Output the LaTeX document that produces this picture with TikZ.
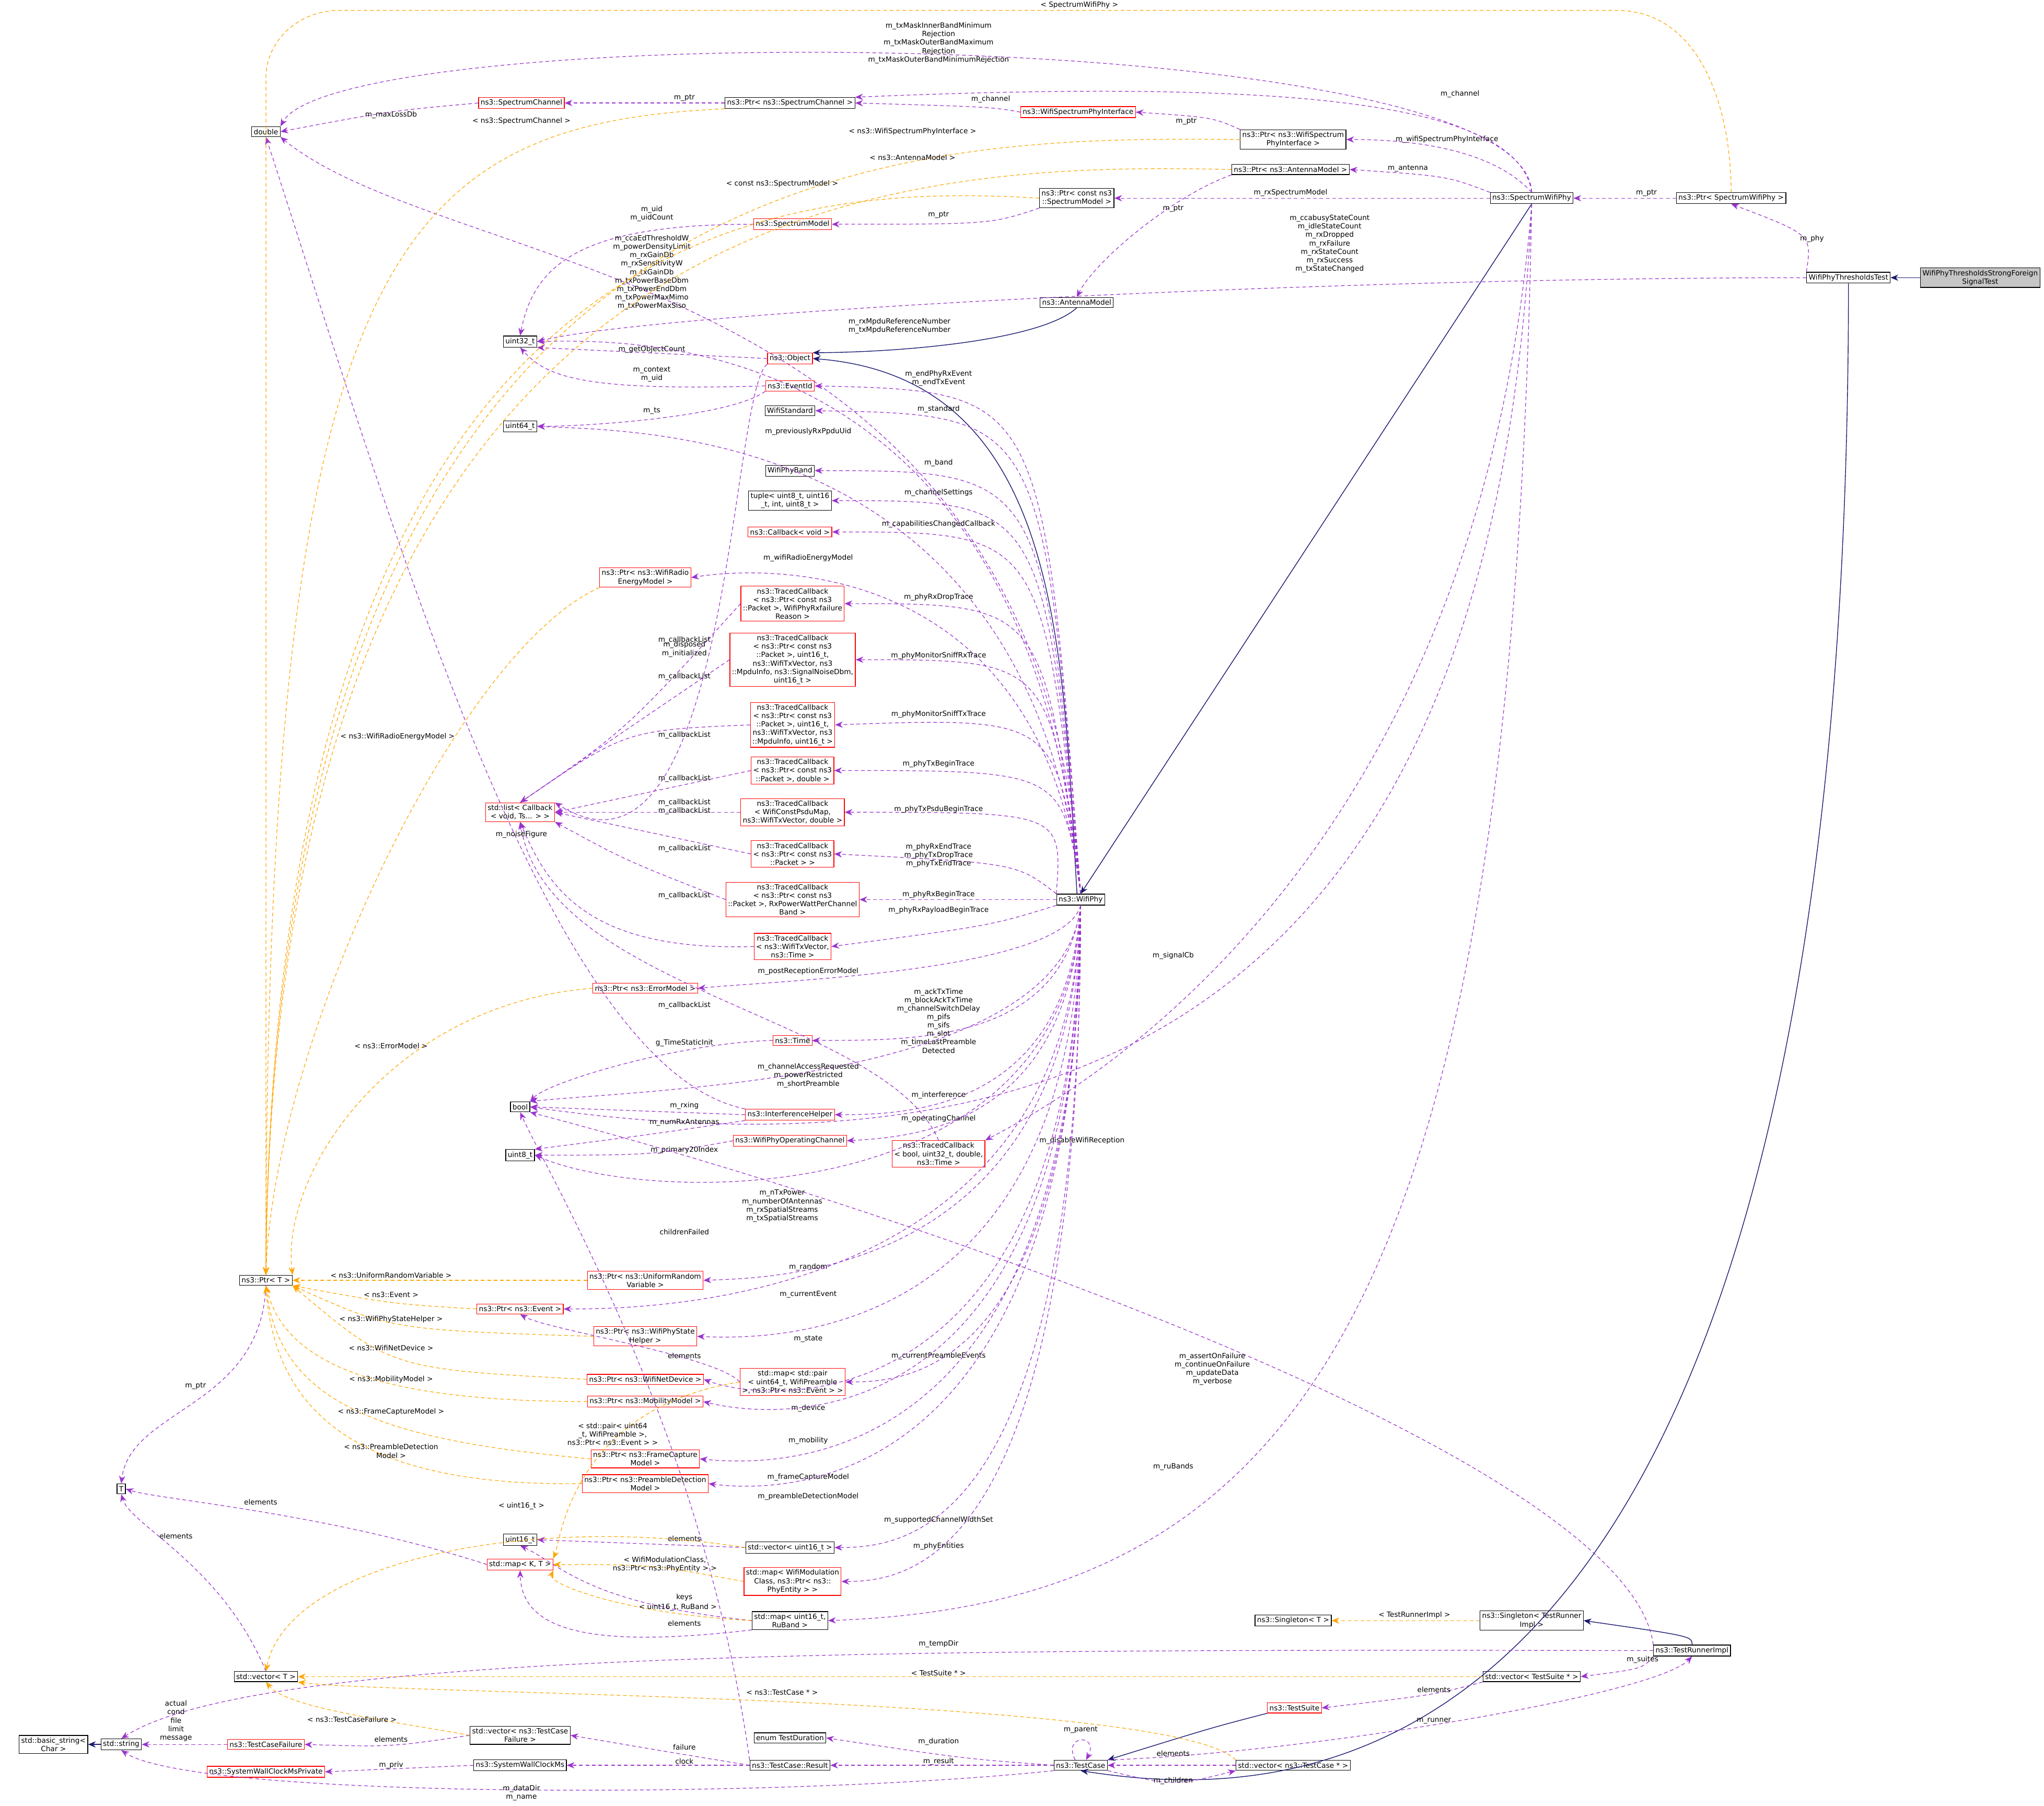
\documentclass[tikz,border=0pt]{standalone}
\usepackage{fontspec}
\setmainfont{DejaVu Sans}
\usetikzlibrary{arrows.meta}
\definecolor{pc}{HTML}{9A32CD}
\definecolor{oc}{HTML}{FFA500}
\definecolor{bc}{HTML}{191970}
\newcommand\nf{\fontsize{3.9}{4.6}\selectfont}
\tikzset{
box/.style={draw=black,line width=0.35pt,font=\nf,align=center,inner sep=1.1pt,fill=white,minimum height=5.5pt},
rbox/.style={box,draw=red},
pe/.style={draw=pc,line width=0.35pt,dash pattern=on 2pt off 1.5pt,-{Stealth[length=4.2pt,width=3.4pt]}},
oe/.style={draw=oc,line width=0.35pt,dash pattern=on 2pt off 1.5pt,-{Stealth[length=4.2pt,width=3.4pt]}},
ie/.style={draw=bc,line width=0.4pt,-{Stealth[length=4.2pt,width=3.4pt]}},
lbl/.style={font=\nf,align=center,inner sep=0}}
\newcommand\lab[3]{\node[lbl] at (#1,#2) {#3};}
\begin{document}
\begin{tikzpicture}[x=0.025cm,y=-0.025cm]
\useasboundingbox (0,0) rectangle (1568,1385);
% nodes
\node[box,fill=gray!45] (sf) at (1519,213) {WifiPhyThresholdsStrongForeign\\SignalTest};
\node[box] (tt) at (1418,213) {WifiPhyThresholdsTest};
\node[box] (psw) at (1328,152) {ns3::Ptr< SpectrumWifiPhy >};
\node[box] (sw) at (1175,152) {ns3::SpectrumWifiPhy};
\node[box] (pwi) at (992,107) {ns3::Ptr< ns3::WifiSpectrum\\PhyInterface >};
\node[rbox] (wsi) at (827,86) {ns3::WifiSpectrumPhyInterface};
\node[box] (psc) at (606,79) {ns3::Ptr< ns3::SpectrumChannel >};
\node[rbox] (sc) at (400,79) {ns3::SpectrumChannel};
\node[box] (dbl) at (204,101) {double};
\node[box] (pam) at (990,130) {ns3::Ptr< ns3::AntennaModel >};
\node[box] (psm) at (826,152) {ns3::Ptr< const ns3\\::SpectrumModel >};
\node[rbox] (sm) at (608,172) {ns3::SpectrumModel};
\node[box] (am) at (826,232) {ns3::AntennaModel};
\node[box] (u32) at (399,262) {uint32\_t};
\node[rbox] (obj) at (606,275) {ns3::Object};
\node[rbox] (eid) at (606,296) {ns3::EventId};
\node[box] (u64) at (399,327) {uint64\_t};
\node[box] (wstd) at (606,315) {WifiStandard};
\node[box] (wband) at (606,361) {WifiPhyBand};
\node[box] (tup) at (606,384) {tuple< uint8\_t, uint16\\\_t, int, uint8\_t >};
\node[rbox] (cbv) at (606,408) {ns3::Callback< void >};
\node[rbox] (pre) at (495,443) {ns3::Ptr< ns3::WifiRadio\\EnergyModel >};
\node[rbox] (tc1) at (608,463) {ns3::TracedCallback\\< ns3::Ptr< const ns3\\::Packet >, WifiPhyRxfailure\\Reason >};
\node[rbox] (tc2) at (608,506) {ns3::TracedCallback\\< ns3::Ptr< const ns3\\::Packet >, uint16\_t,\\ ns3::WifiTxVector, ns3\\::MpduInfo, ns3::SignalNoiseDbm,\\ uint16\_t >};
\node[rbox] (tc3) at (608,556) {ns3::TracedCallback\\< ns3::Ptr< const ns3\\::Packet >, uint16\_t,\\ ns3::WifiTxVector, ns3\\::MpduInfo, uint16\_t >};
\node[rbox] (tc4) at (608,591) {ns3::TracedCallback\\< ns3::Ptr< const ns3\\::Packet >, double >};
\node[rbox] (tc5) at (608,623) {ns3::TracedCallback\\< WifiConstPsduMap,\\ ns3::WifiTxVector, double >};
\node[rbox] (tc6) at (608,655) {ns3::TracedCallback\\< ns3::Ptr< const ns3\\::Packet > >};
\node[rbox] (tc7) at (608,690) {ns3::TracedCallback\\< ns3::Ptr< const ns3\\::Packet >, RxPowerWattPerChannel\\Band >};
\node[rbox] (tc8) at (608,726) {ns3::TracedCallback\\< ns3::WifiTxVector,\\ ns3::Time >};
\node[rbox] (lst) at (399,623) {std::list< Callback\\< void, Ts... > >};
\node[box] (wp) at (829,690) {ns3::WifiPhy};
\node[rbox] (pem) at (495,758) {ns3::Ptr< ns3::ErrorModel >};
\node[rbox] (tim) at (608,798) {ns3::Time};
\node[box] (bool) at (399,849) {bool};
\node[rbox] (ih) at (606,855) {ns3::InterferenceHelper};
\node[box] (u8) at (399,886) {uint8\_t};
\node[rbox] (woc) at (606,875) {ns3::WifiPhyOperatingChannel};
\node[rbox] (tcb) at (720,885) {ns3::TracedCallback\\< bool, uint32\_t, double,\\ ns3::Time >};
\node[box] (pt) at (204,982) {ns3::Ptr< T >};
\node[rbox] (purv) at (495,982) {ns3::Ptr< ns3::UniformRandom\\Variable >};
\node[rbox] (pev) at (399,1004) {ns3::Ptr< ns3::Event >};
\node[rbox] (psh) at (495,1025) {ns3::Ptr< ns3::WifiPhyState\\Helper >};
\node[rbox] (mpe) at (608,1060) {std::map< std::pair\\< uint64\_t, WifiPreamble\\ >, ns3::Ptr< ns3::Event > >};
\node[rbox] (pnd) at (495,1058) {ns3::Ptr< ns3::WifiNetDevice >};
\node[rbox] (pmm) at (495,1075) {ns3::Ptr< ns3::MobilityModel >};
\node[rbox] (pfc) at (495,1119) {ns3::Ptr< ns3::FrameCapture\\Model >};
\node[rbox] (ppd) at (495,1138) {ns3::Ptr< ns3::PreambleDetection\\Model >};
\node[box] (T) at (93,1142) {T};
\node[box] (u16) at (399,1181) {uint16\_t};
\node[box] (vu16) at (606,1187) {std::vector< uint16\_t >};
\node[rbox] (mkt) at (399,1200) {std::map< K, T >};
\node[rbox] (mwm) at (608,1213) {std::map< WifiModulation\\Class, ns3::Ptr< ns3::\\PhyEntity > >};
\node[box] (mrb) at (606,1243) {std::map< uint16\_t,\\ RuBand >};
\node[box] (vt) at (204,1286) {std::vector< T >};
\node[box] (sgt) at (992,1243) {ns3::Singleton< T >};
\node[box] (sgr) at (1175,1243) {ns3::Singleton< TestRunner\\Impl >};
\node[box] (tri) at (1298,1266) {ns3::TestRunnerImpl};
\node[box] (vts) at (1175,1286) {std::vector< TestSuite * >};
\node[rbox] (ts) at (993,1310) {ns3::TestSuite};
\node[box] (bs) at (41,1338) {std::basic\_string<\\Char >};
\node[box] (str) at (93,1338) {std::string};
\node[rbox] (tcf) at (204,1338) {ns3::TestCaseFailure};
\node[box] (vtcf) at (399,1331) {std::vector< ns3::TestCase\\Failure >};
\node[box] (td) at (606,1333) {enum TestDuration};
\node[box] (res) at (606,1354) {ns3::TestCase::Result};
\node[box] (tc) at (829,1354) {ns3::TestCase};
\node[box] (vtc) at (992,1354) {std::vector< ns3::TestCase * >};
\node[box] (swc) at (399,1354) {ns3::SystemWallClockMs};
\node[rbox] (swcp) at (204,1359) {ns3::SystemWallClockMsPrivate};
% inheritance
\draw[ie] (sf) -- (tt);
\draw[ie] (tt.south) .. controls (1418,1385) and (1000,1385) .. (tc.south);
\draw[ie] (sw.south) -- (wp.north);
\draw[ie] ([xshift=-2]wp.north) .. controls (815,500) and (815,290) .. (obj.east);
\draw[ie] (am.south) .. controls (800,260) and (700,270) .. (obj.north east);
\draw[ie] (str) -- (bs);
\draw[ie] (tri.north) .. controls (1298,1255) .. (sgr.east);
\draw[ie] (ts.south west) .. controls (930,1325) .. (tc.north east);
% top region
\draw[pe] (tt.north west) .. controls (1390,180) .. (psw.south); \lab{1390}{183}{m\_phy}
\draw[pe] (tt.west) .. controls (1000,213) and (500,240) .. (u32.east);
\lab{1020}{187}{m\_ccabusyStateCount\\m\_idleStateCount\\m\_rxDropped\\m\_rxFailure\\m\_rxStateCount\\m\_rxSuccess\\m\_txStateChanged}
\draw[pe] (psw.west) -- (sw.east); \lab{1263}{148}{m\_ptr}
\draw[pe] (sw.north) .. controls (1150,120) and (1100,107) .. (pwi.east); \lab{1110}{107}{m\_wifiSpectrumPhyInterface}
\draw[pe] (sw.north) .. controls (1165,80) and (1000,60) .. (psc.north east); \lab{1120}{72}{m\_channel}
\draw[pe] (sw.north west) .. controls (1110,135) .. (pam.east); \lab{1080}{129}{m\_antenna}
\draw[pe] (sw.west) -- (psm.east); \lab{990}{148}{m\_rxSpectrumModel}
\draw[pe] (sw.north) .. controls (1170,15) and (260,15) .. (dbl.north east);
\lab{720}{33}{m\_txMaskInnerBandMinimum\\Rejection\\m\_txMaskOuterBandMaximum\\Rejection\\m\_txMaskOuterBandMinimumRejection}
\draw[pe] (sw.south) .. controls (1140,600) and (900,800) .. (tcb.north east); \lab{900}{733}{m\_signalCb}
\draw[pe] (sw.south) .. controls (1150,700) and (900,920) .. (bool.east); \lab{830}{875}{m\_disableWifiReception}
\draw[pe] (sw.south) .. controls (1160,1000) and (1000,1230) .. (mrb.east); \lab{900}{1125}{m\_ruBands}
\draw[pe] (pwi.north west) .. controls (930,90) .. (wsi.east); \lab{910}{93}{m\_ptr}
\draw[pe] (wsi.west) .. controls (760,82) .. (psc.east); \lab{760}{76}{m\_channel}
\draw[pe] (psc.west) -- (sc.east); \lab{525}{75}{m\_ptr}
\draw[pe] (sc.west) .. controls (300,85) .. (dbl.east); \lab{300}{88}{m\_maxLossDb}
\draw[pe] (pam.south west) .. controls (900,150) and (840,200) .. (am.north); \lab{900}{160}{m\_ptr}
\draw[pe] (psm.south west) .. controls (760,172) .. (sm.east); \lab{720}{165}{m\_ptr}
\draw[pe] (sm.west) .. controls (450,172) and (410,200) .. (u32.north); \lab{500}{164}{m\_uid\\m\_uidCount}
\draw[pe] (obj.west) -- (u32.south east); \lab{500}{268}{m\_getObjectCount}
\draw[pe] (obj.south west) .. controls (560,300) and (560,700) .. (lst.north east); \lab{525}{498}{m\_disposed\\m\_initialized}
\draw[pe] (eid.west) .. controls (450,300) and (420,290) .. (u32.south); \lab{500}{287}{m\_context\\m\_uid}
\draw[pe] (eid.south west) .. controls (560,320) and (450,327) .. (u64.east); \lab{500}{315}{m\_ts}
% WifiPhy members above
\draw[pe] (wp.north) .. controls (800,200) and (350,215) .. (dbl.south east);
\lab{500}{209}{m\_ccaEdThresholdW\\m\_powerDensityLimit\\m\_rxGainDb\\m\_rxSensitivityW\\m\_txGainDb\\m\_txPowerBaseDbm\\m\_txPowerEndDbm\\m\_txPowerMaxMimo\\m\_txPowerMaxSiso}
\draw[pe] (wp.north) .. controls (790,260) and (500,260) .. (u32.east); \lab{690}{250}{m\_rxMpduReferenceNumber\\m\_txMpduReferenceNumber}
\draw[pe] (wp.north) .. controls (800,300) .. (eid.east); \lab{720}{290}{m\_endPhyRxEvent\\m\_endTxEvent}
\draw[pe] (wp.north) .. controls (800,318) .. (wstd.east); \lab{720}{314}{m\_standard}
\draw[pe] (wp.north) .. controls (790,331) and (500,331) .. (u64.east); \lab{620}{331}{m\_previouslyRxPpduUid}
\draw[pe] (wp.north) .. controls (800,361) .. (wband.east); \lab{720}{355}{m\_band}
\draw[pe] (wp.north) .. controls (800,384) .. (tup.east); \lab{720}{378}{m\_channelSettings}
\draw[pe] (wp.north) .. controls (800,408) .. (cbv.east); \lab{720}{402}{m\_capabilitiesChangedCallback}
\draw[pe] (wp.north) .. controls (800,435) and (600,432) .. (pre.east); \lab{620}{428}{m\_wifiRadioEnergyModel}
\draw[pe] (wp.north) .. controls (800,463) .. (tc1.east); \lab{720}{458}{m\_phyRxDropTrace}
\draw[pe] (wp.north) .. controls (805,506) .. (tc2.east); \lab{720}{503}{m\_phyMonitorSniffRxTrace}
\draw[pe] (wp.north) .. controls (810,550) .. (tc3.east); \lab{720}{548}{m\_phyMonitorSniffTxTrace}
\draw[pe] (wp.north) .. controls (815,591) .. (tc4.east); \lab{720}{586}{m\_phyTxBeginTrace}
\draw[pe] (wp.north west) .. controls (815,623) .. (tc5.east); \lab{720}{621}{m\_phyTxPsduBeginTrace}
\draw[pe] (wp.north west) .. controls (780,662) .. (tc6.east); \lab{720}{656}{m\_phyRxEndTrace\\m\_phyTxDropTrace\\m\_phyTxEndTrace}
\draw[pe] (wp.west) -- (tc7.east); \lab{720}{686}{m\_phyRxBeginTrace}
\draw[pe] (wp.south west) .. controls (760,710) .. (tc8.east); \lab{720}{698}{m\_phyRxPayloadBeginTrace}
% WifiPhy members below
\draw[pe] (wp.south) .. controls (815,745) and (600,752) .. (pem.east); \lab{620}{745}{m\_postReceptionErrorModel}
\draw[pe] (wp.south) .. controls (815,800) and (700,798) .. (tim.east); \lab{720}{783}{m\_ackTxTime\\m\_blockAckTxTime\\m\_channelSwitchDelay\\m\_pifs\\m\_sifs\\m\_slot\\m\_timeLastPreamble\\Detected}
\draw[pe] (wp.south) .. controls (815,830) and (500,835) .. (bool.north east); \lab{620}{825}{m\_channelAccessRequested\\m\_powerRestricted\\m\_shortPreamble}
\draw[pe] (wp.south) .. controls (818,850) and (700,855) .. (ih.east); \lab{720}{840}{m\_interference}
\draw[pe] (wp.south) .. controls (820,865) and (700,872) .. (woc.east); \lab{720}{858}{m\_operatingChannel}
\draw[pe] (wp.south) .. controls (820,930) and (500,925) .. (u8.east); \lab{600}{925}{m\_nTxPower\\m\_numberOfAntennas\\m\_rxSpatialStreams\\m\_txSpatialStreams}
\draw[pe] (wp.south) .. controls (822,975) and (600,980) .. (purv.east); \lab{620}{972}{m\_random}
\draw[pe] (wp.south) .. controls (822,1000) and (500,1004) .. (pev.east); \lab{620}{993}{m\_currentEvent}
\draw[pe] (wp.south) .. controls (824,1025) and (600,1028) .. (psh.east); \lab{620}{1027}{m\_state}
\draw[pe] (wp.south) .. controls (826,1050) and (700,1060) .. (mpe.east); \lab{720}{1040}{m\_currentPreambleEvents}
\draw[pe] (wp.south) .. controls (826,1085) and (600,1080) .. (pnd.east); \lab{620}{1080}{m\_device}
\draw[pe] (wp.south) .. controls (826,1105) and (600,1090) .. (pmm.east); \lab{620}{1105}{m\_mobility}
\draw[pe] (wp.south) .. controls (828,1130) and (600,1125) .. (pfc.east); \lab{620}{1133}{m\_frameCaptureModel}
\draw[pe] (wp.south) .. controls (828,1150) and (600,1145) .. (ppd.east); \lab{620}{1148}{m\_preambleDetectionModel}
\draw[pe] (wp.south) .. controls (829,1170) and (700,1187) .. (vu16.east); \lab{720}{1166}{m\_supportedChannelWidthSet}
\draw[pe] (wp.south) .. controls (829,1195) and (700,1213) .. (mwm.east); \lab{720}{1186}{m\_phyEntities}
% callback lists
\foreach \t in {tc1,tc2,tc3}{\draw[pe] (\t.west) .. controls (480,560) .. (lst.north);}
\lab{525}{491}{m\_callbackList}\lab{525}{519}{m\_callbackList}\lab{525}{564}{m\_callbackList}
\draw[pe] (tc4.west) -- (lst.east); \lab{525}{597}{m\_callbackList}
\draw[pe] (tc5.west) -- (lst.east); \lab{525}{619}{m\_callbackList\\m\_callbackList}
\draw[pe] (tc6.west) -- (lst.east);
\draw[pe] (tc7.west) .. controls (480,660) .. (lst.south east); \lab{525}{651}{m\_callbackList}
\draw[pe] (tc8.west) .. controls (450,730) and (420,680) .. (lst.south); \lab{525}{687}{m\_callbackList}
\draw[pe] (tcb.north) .. controls (680,780) and (420,760) .. (lst.south); \lab{525}{771}{m\_callbackList}
% misc
\draw[pe] (tim.west) .. controls (520,800) and (420,830) .. (bool.north east); \lab{525}{800}{g\_TimeStaticInit}
\draw[pe] (ih.west) -- (bool.east); \lab{525}{848}{m\_rxing}
\draw[pe] (ih.south west) .. controls (500,870) .. (u8.north east); \lab{525}{861}{m\_numRxAntennas}
\draw[pe] (ih.north west) .. controls (420,820) and (300,400) .. (dbl.south); \lab{400}{640}{m\_noiseFigure}
\draw[pe] (woc.west) .. controls (500,886) .. (u8.east); \lab{525}{882}{m\_primary20Index}
\draw[pe] (pt.south) .. controls (200,1080) and (100,1080) .. (T.north); \lab{150}{1063}{m\_ptr}
\draw[pe] (mkt.west) .. controls (250,1160) and (120,1150) .. (T.east); \lab{200}{1152}{elements}
\draw[pe] (vt.north) .. controls (170,1200) and (100,1170) .. (T.south); \lab{135}{1178}{elements}
\draw[pe] (mpe.west) .. controls (550,1040) and (420,1020) .. (pev.south); \lab{525}{1040}{elements}
\draw[pe] (vu16.west) -- (u16.east); \lab{525}{1180}{elements}
\draw[pe] (mrb.west) .. controls (450,1230) and (430,1200) .. (u16.south); \lab{525}{1225}{keys}
\draw[pe] (mrb.south west) .. controls (450,1265) and (400,1250) .. (mkt.south); \lab{525}{1245}{elements}
\draw[pe] (res.north west) .. controls (540,1100) and (420,900) .. (bool.south); \lab{525}{945}{childrenFailed}
\draw[pe] (tri.north west) .. controls (1250,1120) and (700,930) .. (bool.south east); \lab{930}{1050}{m\_assertOnFailure\\m\_continueOnFailure\\m\_updateData\\m\_verbose}
\draw[pe] (tri.west) .. controls (700,1265) and (200,1265) .. (str.north); \lab{720}{1261}{m\_tempDir}
\draw[pe] (tri.south west) .. controls (1260,1280) .. (vts.east); \lab{1260}{1273}{m\_suites}
\draw[pe] (vts.south west) .. controls (1100,1300) .. (ts.east); \lab{1100}{1296}{elements}
\draw[pe] (tc.north east) .. controls (1000,1345) and (1270,1300) .. (tri.south); \lab{1100}{1320}{m\_runner}
\draw[pe] ([xshift=-3]tc.north) .. controls +(-10,-20) and +(10,-20) .. ([xshift=3]tc.north); \lab{829}{1327}{m\_parent}
\draw[pe] (tc.south east) .. controls (900,1370) .. (vtc.south west); \lab{900}{1366}{m\_children}
\draw[pe] (vtc.west) -- (tc.east); \lab{900}{1345}{elements}
\draw[pe] (tc.west) .. controls (740,1349) .. (td.east); \lab{720}{1336}{m\_duration}
\draw[pe] (tc.west) -- (res.east); \lab{720}{1351}{m\_result}
\draw[pe] (tc.south west) .. controls (600,1380) and (150,1380) .. (str.south); \lab{400}{1375}{m\_dataDir\\m\_name}
\draw[pe] (res.west) .. controls (520,1345) .. (vtcf.east); \lab{525}{1340}{failure}
\draw[pe] (res.west) -- (swc.east); \lab{525}{1351}{clock}
\draw[pe] (vtcf.west) .. controls (300,1340) .. (tcf.east); \lab{300}{1334}{elements}
\draw[pe] (swc.west) -- (swcp.east); \lab{300}{1354}{m\_priv}
\draw[pe] (tcf.west) -- (str.east); \lab{135}{1320}{actual\\cond\\file\\limit\\message}
% orange templates
\draw[oe] (psw.north) to[out=90,in=0] (1240,8) -- (260,8) to[out=180,in=90] (204,60) -- (pt.north); \lab{828}{4}{< SpectrumWifiPhy >}
\draw[oe] (psc.south west) .. controls (300,95) and (204,200) .. (pt.north); \lab{400}{93}{< ns3::SpectrumChannel >}
\draw[oe] (pwi.west) .. controls (700,105) and (210,100) .. (pt.north); \lab{700}{101}{< ns3::WifiSpectrumPhyInterface >}
\draw[oe] (pam.west) .. controls (700,125) and (210,130) .. (pt.north); \lab{700}{121}{< ns3::AntennaModel >}
\draw[oe] (psm.west) .. controls (600,140) and (210,160) .. (pt.north); \lab{600}{141}{< const ns3::SpectrumModel >}
\draw[oe] (pre.south west) .. controls (350,500) and (210,800) .. (pt.north); \lab{305}{565}{< ns3::WifiRadioEnergyModel >}
\draw[oe] (pem.west) .. controls (300,770) and (215,900) .. (pt.north east); \lab{300}{802}{< ns3::ErrorModel >}
\draw[oe] (purv.west) -- (pt.east); \lab{300}{978}{< ns3::UniformRandomVariable >}
\draw[oe] (pev.west) .. controls (300,1000) .. (pt.south east); \lab{300}{993}{< ns3::Event >}
\draw[oe] (psh.west) .. controls (300,1020) .. (pt.south east); \lab{300}{1012}{< ns3::WifiPhyStateHelper >}
\draw[oe] (pnd.west) .. controls (300,1050) .. (pt.south east); \lab{300}{1034}{< ns3::WifiNetDevice >}
\draw[oe] (pmm.west) .. controls (300,1075) and (220,1050) .. (pt.south); \lab{300}{1058}{< ns3::MobilityModel >}
\draw[oe] (pfc.west) .. controls (300,1105) and (215,1080) .. (pt.south); \lab{300}{1083}{< ns3::FrameCaptureModel >}
\draw[oe] (ppd.west) .. controls (300,1140) and (212,1100) .. (pt.south); \lab{300}{1113}{< ns3::PreambleDetection\\Model >}
\draw[oe] (vu16.west) .. controls (400,1160) and (220,1200) .. (vt.north); \lab{400}{1155}{< uint16\_t >}
\draw[oe] (mpe.west) .. controls (440,1080) and (430,1180) .. (mkt.north east); \lab{470}{1100}{< std::pair< uint64\\\_t, WifiPreamble >,\\ ns3::Ptr< ns3::Event > >}
\draw[oe] (mwm.west) .. controls (500,1200) .. (mkt.east); \lab{510}{1200}{< WifiModulationClass,\\ ns3::Ptr< ns3::PhyEntity > >}
\draw[oe] (mrb.west) .. controls (480,1238) and (420,1215) .. (mkt.south east); \lab{520}{1233}{< uint16\_t, RuBand >}
\draw[oe] (sgr.west) -- (sgt.east); \lab{1085}{1239}{< TestRunnerImpl >}
\draw[oe] (vts.west) -- (vt.east); \lab{720}{1283}{< TestSuite * >}
\draw[oe] (vtc.north west) .. controls (900,1300) and (300,1300) .. (vt.south east); \lab{600}{1298}{< ns3::TestCase * >}
\draw[oe] (vtcf.west) .. controls (300,1320) and (220,1310) .. (vt.south); \lab{270}{1319}{< ns3::TestCaseFailure >}
\end{tikzpicture}
\end{document}
